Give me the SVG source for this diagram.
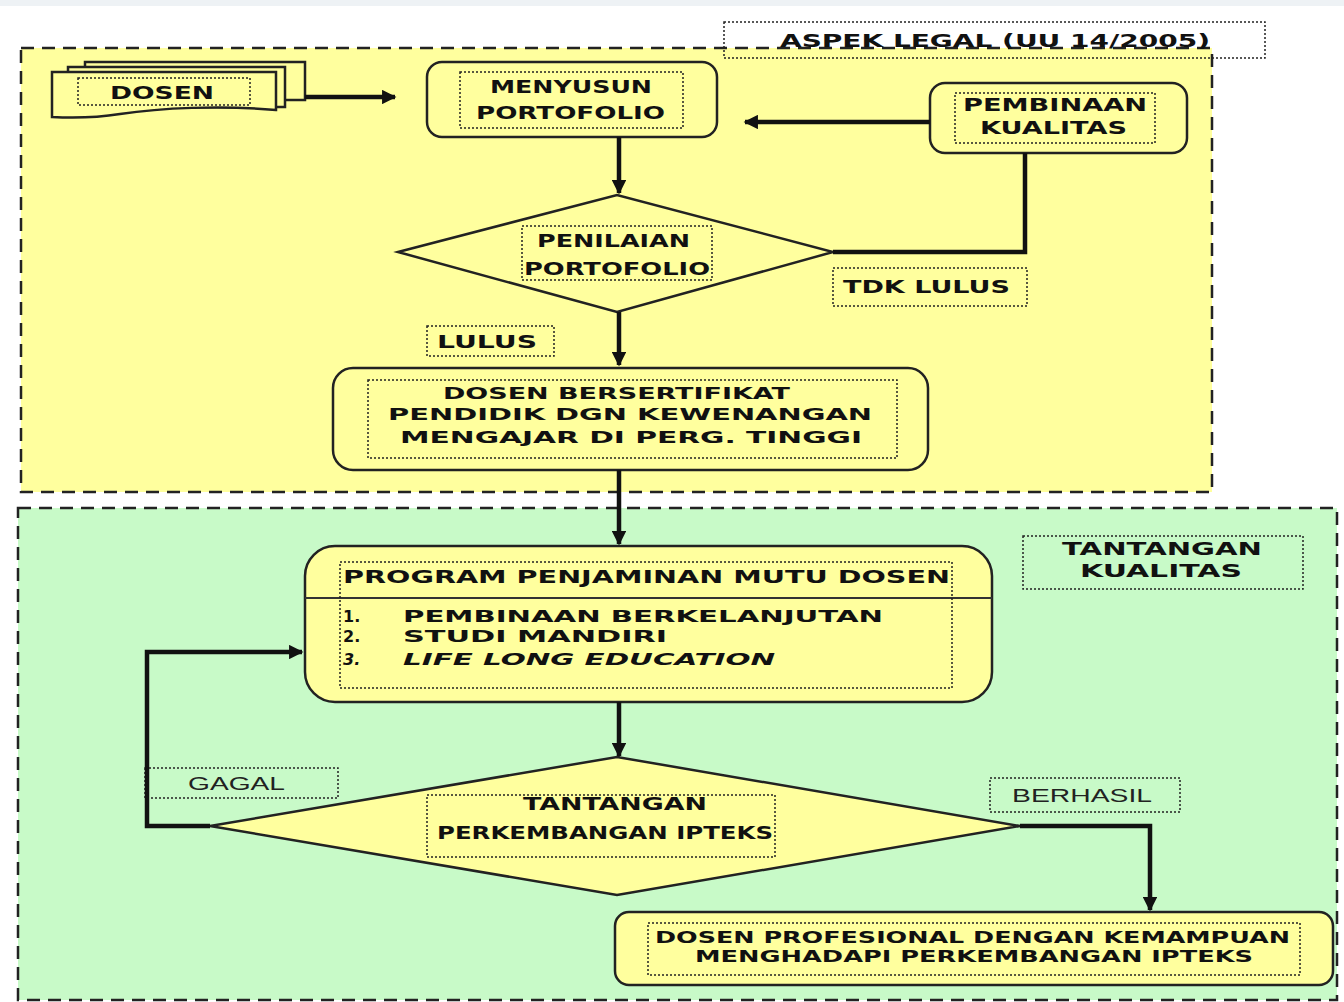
<svg xmlns="http://www.w3.org/2000/svg" width="1344" height="1002" viewBox="0 0 1344 1002">
<style>
.region{stroke:#222;stroke-width:2.5;stroke-dasharray:13,8}
.node{fill:#ffff9e;stroke:#222;stroke-width:2.5}
.dot{fill:none;stroke:#222;stroke-width:1.5;stroke-dasharray:2,2}
.t{font-family:"DejaVu Sans",Verdana,sans-serif;font-weight:bold;font-size:18px;fill:#111}
.s{font-size:16px}
.n{font-family:"Liberation Sans",Arial,sans-serif;font-size:18px;fill:#222}
.c{stroke:#111;stroke-width:4.5;fill:none}
</style>
<defs>
<marker id="ah" viewBox="0 0 10 10" refX="9" refY="5" markerWidth="3.4" markerHeight="3.2" orient="auto" markerUnits="strokeWidth">
<path d="M0,0 L10,5 L0,10 Z" fill="#111"/>
</marker>
</defs>
<rect width="1344" height="1002" fill="#ffffff"/>
<rect width="1344" height="6" fill="#eef2f5"/>
<g id="region-legal">
<rect class="region" x="21" y="48" width="1191" height="444" fill="#ffff9e"/>
</g>
<g id="region-kualitas">
<rect class="region" x="18" y="508" width="1319" height="492" fill="#c8fac8"/>
</g>
<g id="label-aspek">
<rect class="dot" x="724" y="22" width="541" height="36" fill="none"/>
<text class="t" x="780" y="47" textLength="430" lengthAdjust="spacingAndGlyphs">ASPEK LEGAL (UU 14/2005)</text>
</g>
<g id="dosen">
<rect class="node" x="85" y="62" width="220" height="38"/>
<rect class="node" x="68" y="67" width="217" height="40"/>
<path class="node" d="M52,72 H276 V110 C220,105 160,108 120,114 C95,118 70,118 52,117 Z"/>
<rect class="dot" x="78" y="78" width="172" height="27"/>
<text class="t" x="110" y="99" textLength="104" lengthAdjust="spacingAndGlyphs">DOSEN</text>
</g>
<g id="menyusun">
<rect class="node" x="427" y="62" width="290" height="75" rx="15"/>
<rect class="dot" x="460" y="72" width="223" height="56"/>
<text class="t" x="490" y="93" textLength="162" lengthAdjust="spacingAndGlyphs">MENYUSUN</text>
<text class="t" x="476" y="119" textLength="189" lengthAdjust="spacingAndGlyphs">PORTOFOLIO</text>
</g>
<g id="pembinaan">
<rect class="node" x="930" y="83" width="257" height="70" rx="15"/>
<rect class="dot" x="955" y="93" width="200" height="50"/>
<text class="t" x="963" y="111" textLength="184" lengthAdjust="spacingAndGlyphs">PEMBINAAN</text>
<text class="t" x="980" y="134" textLength="147" lengthAdjust="spacingAndGlyphs">KUALITAS</text>
</g>
<g id="penilaian">
<polygon class="node" points="398,252 617,195 833,252 617,312" stroke-width="1.5"/>
<rect class="dot" x="522" y="226" width="190" height="54"/>
<text class="t" x="537" y="247" textLength="153" lengthAdjust="spacingAndGlyphs">PENILAIAN</text>
<text class="t" x="524" y="275" textLength="186" lengthAdjust="spacingAndGlyphs">PORTOFOLIO</text>
</g>
<g id="tdk-lulus">
<rect class="dot" x="833" y="268" width="194" height="38"/>
<text class="t" x="843" y="293" textLength="167" lengthAdjust="spacingAndGlyphs">TDK LULUS</text>
</g>
<g id="lulus">
<rect class="dot" x="427" y="326" width="127" height="30"/>
<text class="t" x="437" y="348" textLength="100" lengthAdjust="spacingAndGlyphs">LULUS</text>
</g>
<g id="bersertifikat">
<rect class="node" x="333" y="368" width="595" height="102" rx="20"/>
<rect class="dot" x="368" y="380" width="529" height="78"/>
<text class="t s" x="443" y="399" textLength="347" lengthAdjust="spacingAndGlyphs">DOSEN BERSERTIFIKAT</text>
<text class="t s" x="388" y="420" textLength="484" lengthAdjust="spacingAndGlyphs">PENDIDIK DGN KEWENANGAN</text>
<text class="t s" x="400" y="443" textLength="462" lengthAdjust="spacingAndGlyphs">MENGAJAR DI PERG. TINGGI</text>
</g>
<g id="program">
<rect class="node" x="305" y="546" width="687" height="156" rx="30"/>
<line x1="305" y1="598" x2="992" y2="598" stroke="#333" stroke-width="2"/>
<rect class="dot" x="340" y="562" width="612" height="126"/>
<text class="t" x="343" y="583" textLength="607" lengthAdjust="spacingAndGlyphs">PROGRAM PENJAMINAN MUTU DOSEN</text>
<text class="t s" x="343" y="622">1.</text>
<text class="t s" x="403" y="622" textLength="480" lengthAdjust="spacingAndGlyphs">PEMBINAAN BERKELANJUTAN</text>
<text class="t s" x="343" y="642">2.</text>
<text class="t s" x="403" y="642" textLength="264" lengthAdjust="spacingAndGlyphs">STUDI MANDIRI</text>
<text class="t s" x="343" y="665" font-style="italic">3.</text>
<text class="t s" x="403" y="665" font-style="italic" textLength="372" lengthAdjust="spacingAndGlyphs">LIFE LONG EDUCATION</text>
</g>
<g id="tantangan-kualitas">
<rect class="dot" x="1023" y="536" width="280" height="53"/>
<text class="t" x="1062" y="555" textLength="200" lengthAdjust="spacingAndGlyphs">TANTANGAN</text>
<text class="t" x="1080" y="577" textLength="162" lengthAdjust="spacingAndGlyphs">KUALITAS</text>
</g>
<g id="tantangan-ipteks">
<polygon class="node" points="210,826 617,757 1020,826 617,895" stroke-width="1.5"/>
<rect class="dot" x="427" y="795" width="348" height="62"/>
<text class="t" x="523" y="810" textLength="184" lengthAdjust="spacingAndGlyphs">TANTANGAN</text>
<text class="t" x="437" y="839" textLength="336" lengthAdjust="spacingAndGlyphs">PERKEMBANGAN IPTEKS</text>
</g>
<g id="gagal">
<rect class="dot" x="145" y="768" width="193" height="30"/>
<text class="n" x="188" y="790" textLength="97" lengthAdjust="spacingAndGlyphs">GAGAL</text>
</g>
<g id="berhasil">
<rect class="dot" x="990" y="778" width="190" height="34"/>
<text class="n" x="1012" y="802" textLength="140" lengthAdjust="spacingAndGlyphs">BERHASIL</text>
</g>
<g id="profesional">
<rect class="node" x="615" y="912" width="718" height="73" rx="14"/>
<rect class="dot" x="648" y="923" width="652" height="52"/>
<text class="t" x="655" y="943" font-size="15" style="font-size:15px" textLength="635" lengthAdjust="spacingAndGlyphs">DOSEN PROFESIONAL DENGAN KEMAMPUAN</text>
<text class="t" x="695" y="962" style="font-size:15px" textLength="558" lengthAdjust="spacingAndGlyphs">MENGHADAPI PERKEMBANGAN IPTEKS</text>
</g>
<g id="connectors">
<line class="c" x1="305" y1="97" x2="395" y2="97" marker-end="url(#ah)"/>
<line class="c" x1="930" y1="122" x2="745" y2="122" marker-end="url(#ah)"/>
<line class="c" x1="619" y1="137" x2="619" y2="193" marker-end="url(#ah)"/>
<path class="c" d="M1025,153 V252 H833"/>
<line class="c" x1="619" y1="312" x2="619" y2="365" marker-end="url(#ah)"/>
<line class="c" x1="619" y1="470" x2="619" y2="544" marker-end="url(#ah)"/>
<line class="c" x1="619" y1="702" x2="619" y2="756" marker-end="url(#ah)"/>
<path class="c" d="M210,826 H147 V652 H302" marker-end="url(#ah)"/>
<path class="c" d="M1020,826 H1150 V910" marker-end="url(#ah)"/>
</g>
</svg>
